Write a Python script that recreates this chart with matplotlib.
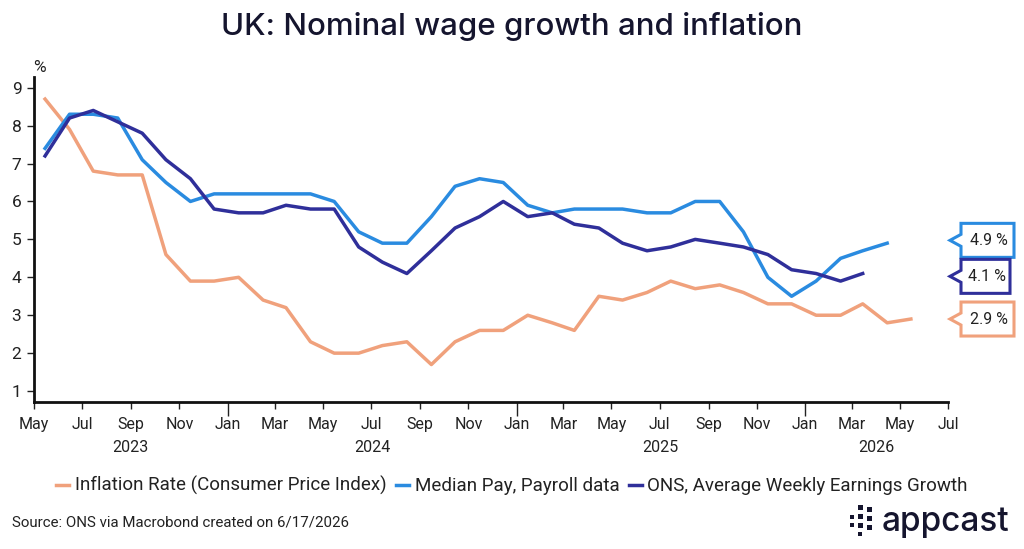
import matplotlib.pyplot as plt
import matplotlib.dates as mdates
from matplotlib.patches import Polygon, Rectangle
import numpy as np
import pandas as pd

# monthly values, first point = May 2023
cpi = [8.7, 7.9, 6.8, 6.7, 6.7, 4.6, 3.9, 3.9, 4.0, 3.4, 3.2, 2.3, 2.0, 2.0, 2.2, 2.3,
       1.7, 2.3, 2.6, 2.6, 3.0, 2.8, 2.6, 3.5, 3.4, 3.6, 3.9, 3.7, 3.8, 3.6, 3.3, 3.3,
       3.0, 3.0, 3.3, 2.8, 2.9]
median_pay = [7.4, 8.3, 8.3, 8.2, 7.1, 6.5, 6.0, 6.2, 6.2, 6.2, 6.2, 6.2, 6.0, 5.2,
              4.9, 4.9, 5.6, 6.4, 6.6, 6.5, 5.9, 5.7, 5.8, 5.8, 5.8, 5.7, 5.7, 6.0,
              6.0, 5.2, 4.0, 3.5, 3.9, 4.5, 4.7, 4.9]
ons_awe = [7.2, 8.2, 8.4, 8.1, 7.8, 7.1, 6.6, 5.8, 5.7, 5.7, 5.9, 5.8, 5.8, 4.8,
           4.4, 4.1, 4.7, 5.3, 5.6, 6.0, 5.6, 5.7, 5.4, 5.3, 4.9, 4.7, 4.8, 5.0,
           4.9, 4.8, 4.6, 4.2, 4.1, 3.9, 4.1]
labels = ['Inflation Rate (Consumer Price Index)', 'Median Pay, Payroll data',
          'ONS, Average Weekly Earnings Growth']
colors = ['#f0a17c', '#2a8be0', '#2f2f9a']
last_labels = ['2.9 %', '4.9 %', '4.1 %']
start = '2023-05-01'

series = [cpi, median_pay, ons_awe]

plt.rcParams['font.family'] = ['Roboto', 'DejaVu Sans']
fig = plt.figure(figsize=(10.24, 5.49), dpi=100)
ax = fig.add_axes([0.0332, 0.2683, 0.8926, 0.592])

for vals, col, lab in zip(series, colors, labels):
    dates = pd.date_range(start, periods=len(vals), freq='MS') + pd.Timedelta(days=14)
    ax.plot(dates, vals, color=col, lw=2.5, label=lab)

ax.set_xlim(pd.Timestamp('2023-05-01'), pd.Timestamp('2026-07-01'))
ax.set_ylim(0.72, 9.29)
ax.set_yticks(range(1, 10))
ticks = pd.date_range('2023-05-01', '2026-07-01', freq='2MS')
ax.set_xticks(ticks)
ax.xaxis.set_major_formatter(mdates.DateFormatter('%b'))
ax.tick_params(axis='both', colors='#222222', width=1, length=5)
ax.tick_params(axis='x', pad=6, labelsize=11.5)
ax.tick_params(axis='y', pad=4, labelsize=12.5)
for t, tl in zip(ticks, ax.xaxis.get_major_ticks()):
    if t.month == 1:
        tl.tick1line.set_markersize(10)
for s in ['top', 'right']:
    ax.spines[s].set_visible(False)
for s in ['left', 'bottom']:
    ax.spines[s].set_linewidth(2)
    ax.spines[s].set_color('#111111')

# year labels centred under their visible months
trans = ax.get_xaxis_transform()
for yr in [2023, 2024, 2025, 2026]:
    a = max(pd.Timestamp(f'{yr}-01-01'), pd.Timestamp('2023-05-01'))
    b = min(pd.Timestamp(f'{yr + 1}-01-01'), pd.Timestamp('2026-07-01'))
    mid = a + (b - a) / 2
    ax.text(mid, -0.14, str(yr), transform=trans, ha='center', va='center',
            fontsize=11.5, color='#222222')

ax.text(-0.001, 1.027, '%', transform=ax.transAxes, ha='left', va='center',
        fontsize=12.5, color='#222222')

fig.text(0.5, 0.952, 'UK: Nominal wage growth and inflation', ha='center', va='center',
         fontsize=22.5, color='#15152e', family=['Inter', 'DejaVu Sans'], weight='medium')

# callout boxes for last values
fig.canvas.draw()
W, H = fig.bbox.width, fig.bbox.height
bh = 34
c = np.array([ax.transData.transform((0, v[-1]))[1] for v in series], dtype=float)
for _ in range(10):
    idx = np.argsort(c)
    for i in range(len(idx) - 1):
        lo, hi = idx[i], idx[i + 1]
        gap = c[hi] - c[lo]
        if gap < bh + 2:
            d = (bh + 2 - gap) / 2
            c[hi] += d
            c[lo] -= d
x_tip, x_l = 950, 961
for k, (vals, col) in enumerate(zip(series, colors)):
    yc = c[k]
    w = 53 if k != 2 else 49
    pts = [(x_tip, yc), (x_l, yc + 6), (x_l, yc + bh / 2), (x_l + w, yc + bh / 2),
           (x_l + w, yc - bh / 2), (x_l, yc - bh / 2), (x_l, yc - 6)]
    pts = [(px / W, py / H) for px, py in pts]
    fig.add_artist(Polygon(pts, closed=True, transform=fig.transFigure, facecolor='white',
                           edgecolor=col, lw=2.2, joinstyle='miter'))
    fig.text((x_l + w / 2 + 1) / W, yc / H, last_labels[k], ha='center', va='center',
             fontsize=11.5, color='#222222')

fig.legend(loc='center', bbox_to_anchor=(0.5, 0.115), ncol=3, frameon=False,
           fontsize=13.5, handlelength=0.7, handletextpad=0.3, columnspacing=0.5,
           labelcolor='#222222')

fig.text(0.012, 0.048, 'Source: ONS via Macrobond created on 6/17/2026', ha='left',
         va='center', fontsize=10.8, color='#222222')

# logo
for cx, cy, s in [(852, 517, 4), (852, 525, 4), (860, 507, 5), (860, 516, 5), (860, 525, 5),
                  (860, 534, 4), (869, 509, 5), (869, 518, 5), (869, 527, 5)]:
    fig.add_artist(Rectangle(((cx - s / 2) / W, 1 - (cy + s / 2) / H), s / W, s / H,
                             transform=fig.transFigure, facecolor='#15152e', edgecolor='none'))
fig.text(882 / W, 1 - 531 / H, 'appcast', ha='left', va='baseline', fontsize=24,
         color='#15152e', family=['Inter', 'DejaVu Sans'], weight='medium')

fig.savefig('out.png', dpi=100)
